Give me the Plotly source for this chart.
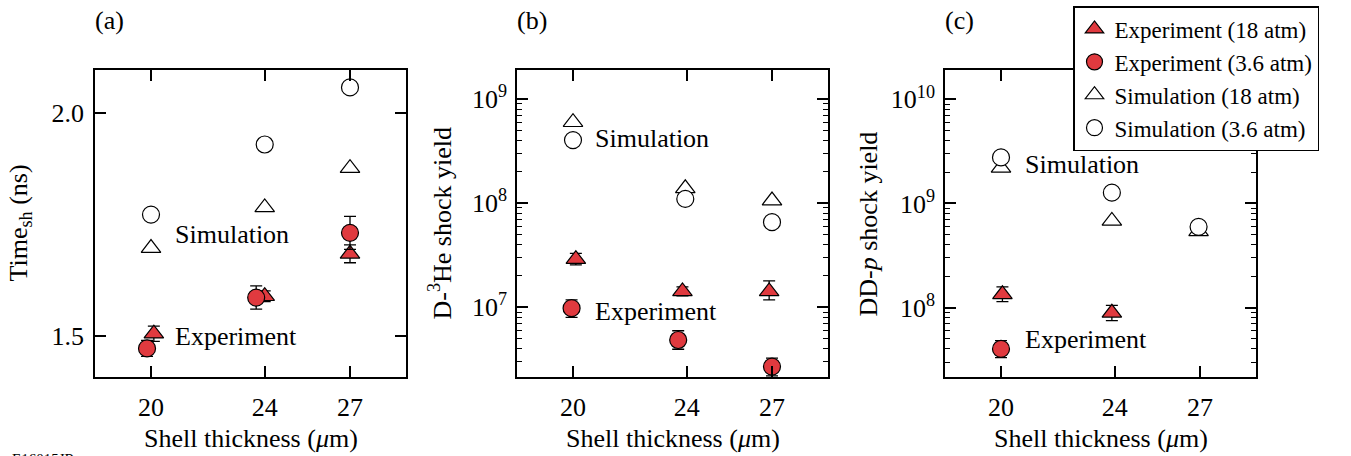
import plotly.graph_objects as go

FONT = "Liberation Serif, Times New Roman, serif"
RED = "#E03A3F"

# ---------------- data ----------------
thickness_ticks = [20, 24, 27]
thickness_labels = ["20", "24", "27"]

# (a) shock-flash time (ns)
a_exp18_x = [20.1, 24.0, 27.0]
a_exp18_y = [1.505, 1.589, 1.684]
a_exp18_err = [0.017, 0.012, 0.02]
a_exp36_x = [19.86, 23.7, 27.0]
a_exp36_y = [1.472, 1.586, 1.731]
a_exp36_err = [0.018, 0.026, 0.037]
a_sim18_x = [20, 24, 27]
a_sim18_y = [1.697, 1.788, 1.876]
a_sim36_x = [20, 24, 27]
a_sim36_y = [1.772, 1.929, 2.057]
a_ticks = [1.5, 2.0]
a_ticklabels = ["1.5", "2.0"]

# (b) D-3He shock yield
b_exp18_x = [20.1, 23.85, 26.9]
b_exp18_y = [2.9e7, 1.42e7, 1.42e7]
b_exp18_errp = [0.4e7, 0.15e7, 0.37e7]
b_exp18_errm = [0.35e7, 0.13e7, 0.24e7]
b_exp36_x = [19.95, 23.7, 27.0]
b_exp36_y = [9.8e6, 4.85e6, 2.69e6]
b_exp36_errp = [2.0e6, 1.1e6, 0.55e6]
b_exp36_errm = [1.8e6, 0.9e6, 0.5e6]
b_sim18_x = [20, 23.95, 27]
b_sim18_y = [6.0e8, 1.39e8, 1.06e8]
b_sim36_x = [20, 23.95, 27]
b_sim36_y = [4.04e8, 1.1e8, 6.57e7]
b_ticks = [1e7, 1e8, 1e9]
b_ticklabels = ["10<sup>7</sup>", "10<sup>8</sup>", "10<sup>9</sup>"]

# (c) DD-p shock yield
c_exp18_x = [20.05, 23.9]
c_exp18_y = [1.34e8, 8.9e7]
c_exp18_errp = [2.4e7, 1.6e7]
c_exp18_errm = [2.0e7, 1.4e7]
c_exp36_x = [20.0]
c_exp36_y = [4.01e7]
c_exp36_errp = [0.8e7]
c_exp36_errm = [0.7e7]
c_sim18_x = [20, 23.9, 26.95]
c_sim18_y = [2.2e9, 6.8e8, 5.4e8]
c_sim36_x = [20, 23.9, 26.95]
c_sim36_y = [2.77e9, 1.27e9, 5.96e8]
c_ticks = [1e8, 1e9, 1e10]
c_ticklabels = ["10<sup>8</sup>", "10<sup>9</sup>", "10<sup>10</sup>"]

legend_names = ["Experiment (18 atm)", "Experiment (3.6 atm)",
                "Simulation (18 atm)", "Simulation (3.6 atm)"]

# ---------------- figure ----------------
W, H = 1351, 456
fig = go.Figure()

MS = 17
line_blk = dict(color="black", width=1.2)


def err(p, m=None):
    d = dict(type="data", array=p, color="black", thickness=1.3, width=6, visible=True)
    if m is not None:
        d["symmetric"] = False
        d["arrayminus"] = m
    return d


panels = [
    ("x", "y", a_exp18_x, a_exp18_y, err(a_exp18_err), a_exp36_x, a_exp36_y, err(a_exp36_err),
     a_sim18_x, a_sim18_y, a_sim36_x, a_sim36_y),
    ("x2", "y2", b_exp18_x, b_exp18_y, err(b_exp18_errp, b_exp18_errm), b_exp36_x, b_exp36_y,
     err(b_exp36_errp, b_exp36_errm), b_sim18_x, b_sim18_y, b_sim36_x, b_sim36_y),
    ("x3", "y3", c_exp18_x, c_exp18_y, err(c_exp18_errp, c_exp18_errm), c_exp36_x, c_exp36_y,
     err(c_exp36_errp, c_exp36_errm), c_sim18_x, c_sim18_y, c_sim36_x, c_sim36_y),
]

for i, (xa, ya, e18x, e18y, e18e, e36x, e36y, e36e, s18x, s18y, s36x, s36y) in enumerate(panels):
    show = i == 0
    fig.add_trace(go.Scatter(x=s18x, y=s18y, mode="markers", xaxis=xa, yaxis=ya,
                             name=legend_names[2], legendrank=3, showlegend=show,
                             marker=dict(symbol="triangle-up", size=MS, color="white", line=line_blk)))
    fig.add_trace(go.Scatter(x=s36x, y=s36y, mode="markers", xaxis=xa, yaxis=ya,
                             name=legend_names[3], legendrank=4, showlegend=show,
                             marker=dict(symbol="circle", size=MS, color="white", line=line_blk)))
    fig.add_trace(go.Scatter(x=e18x, y=e18y, mode="markers", xaxis=xa, yaxis=ya, error_y=e18e,
                             name=legend_names[0], legendrank=1, showlegend=show,
                             marker=dict(symbol="triangle-up", size=MS, color=RED, line=line_blk)))
    fig.add_trace(go.Scatter(x=e36x, y=e36y, mode="markers", xaxis=xa, yaxis=ya, error_y=e36e,
                             name=legend_names[1], legendrank=2, showlegend=show,
                             marker=dict(symbol="circle", size=MS, color=RED, line=line_blk)))

# plot-area geometry in pixels
lefts = [95, 517, 945]
width_px = 311
top_px, bot_px = 70, 377
ydom = [1 - bot_px / H, 1 - top_px / H]

axis_common = dict(showline=True, linecolor="black", linewidth=1.5, mirror="ticks",
                   ticks="inside", ticklen=11, tickwidth=1.5, tickcolor="black",
                   showgrid=False, zeroline=False, automargin=False,
                   tickfont=dict(family=FONT, size=26, color="black"))


def minor_vals(lo_exp, hi_exp):
    vals = []
    for e in range(lo_exp, hi_exp + 1):
        for k in range(2, 10):
            vals.append(k * 10 ** e)
    return vals


layout_axes = {}
for i, L in enumerate(lefts):
    sfx = "" if i == 0 else str(i + 1)
    layout_axes["xaxis" + sfx] = dict(axis_common, domain=[L / W, (L + width_px) / W],
                                      range=[18.03, 28.97], tickmode="array",
                                      tickvals=thickness_ticks, ticktext=thickness_labels,
                                      anchor="y" + sfx, ticklabelstandoff=6)

layout_axes["yaxis"] = dict(axis_common, domain=ydom, range=[1.408, 2.096], tickmode="array",
                            tickvals=a_ticks, ticktext=a_ticklabels, anchor="x",
                            ticklabelstandoff=4)
layout_axes["yaxis2"] = dict(axis_common, domain=ydom, type="log", range=[6.33, 9.28],
                             tickmode="array", tickvals=b_ticks, ticktext=b_ticklabels,
                             anchor="x2", ticklabelstandoff=3,
                             minor=dict(ticks="inside", ticklen=5, tickwidth=1.2, tickcolor="black",
                                        tickmode="array", tickvals=minor_vals(6, 9), showgrid=False))
layout_axes["yaxis3"] = dict(axis_common, domain=ydom, type="log", range=[7.333, 10.282],
                             tickmode="array", tickvals=c_ticks, ticktext=c_ticklabels,
                             anchor="x3", ticklabelstandoff=3,
                             minor=dict(ticks="inside", ticklen=5, tickwidth=1.2, tickcolor="black",
                                        tickmode="array", tickvals=minor_vals(7, 10), showgrid=False))

txt = dict(family=FONT, size=26, color="black")
ann = []
# panel labels
for L, lab in zip(lefts, ["(a)", "(b)", "(c)"]):
    ann.append(dict(x=(L - 2) / W, y=1 - 21 / H, xref="paper", yref="paper", text=lab,
                    showarrow=False, xanchor="left", yanchor="middle", font=txt))
# x titles
for L in lefts:
    ann.append(dict(x=(L + width_px / 2) / W, y=1 - 438 / H, xref="paper", yref="paper",
                    text="Shell thickness (<i>μ</i>m)", showarrow=False,
                    xanchor="center", yanchor="middle", font=txt))
# y titles
ymid = 1 - (top_px + bot_px) / 2 / H
for xp, t in [(20, "Time<sub>sh</sub> (ns)"), (441, "D-<sup>3</sup>He shock yield"),
              (868, "DD-<i>p</i> shock yield")]:
    ann.append(dict(x=xp / W, y=ymid, xref="paper", yref="paper", text=t, textangle=-90,
                    showarrow=False, xanchor="center", yanchor="middle", font=txt))
# in-panel labels
for xr, yr, xv, yv, t in [
    ("x", "y", 20.77, 1.728, "Simulation"), ("x", "y", 20.77, 1.498, "Experiment"),
    ("x2", "y2", 20.71, 8.625, "Simulation"), ("x2", "y2", 20.71, 6.964, "Experiment"),
    ("x3", "y3", 20.76, 9.378, "Simulation"), ("x3", "y3", 20.76, 7.695, "Experiment"),
]:
    ann.append(dict(x=xv, y=yv, xref=xr, yref=yr, text=t, showarrow=False,
                    xanchor="left", yanchor="middle", font=txt))
# figure id (partly cut by the bottom edge, as in the reference)
ann.append(dict(x=10 / W, y=1 - 449 / H, xref="paper", yref="paper", text="E16015JR",
                showarrow=False, xanchor="left", yanchor="top",
                font=dict(family=FONT, size=15, color="black")))

fig.update_layout(
    width=W, height=H, margin=dict(l=0, r=0, t=0, b=0),
    paper_bgcolor="white", plot_bgcolor="white",
    font=txt, annotations=ann,
    legend=dict(x=1073 / W, y=1 - 6 / H, xanchor="left", yanchor="top",
                bgcolor="white", bordercolor="black", borderwidth=1.5,
                font=dict(family=FONT, size=23, color="black"),
                tracegroupgap=0, itemwidth=30),
    **layout_axes,
)

fig.write_html("out.html", config={"displayModeBar": False},
               post_script="document.body.style.margin='0px';document.body.style.overflow='hidden';")
